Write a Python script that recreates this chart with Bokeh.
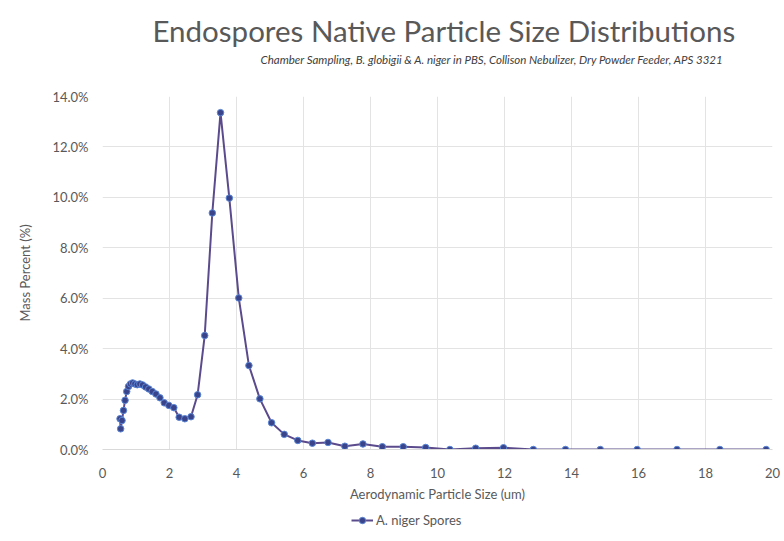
from bokeh.plotting import figure
from bokeh.layouts import column
from bokeh.models import Range1d, Legend, LegendItem, PrintfTickFormatter, FixedTicker, ColumnDataSource, Title
from bokeh.embed import file_html
from bokeh.resources import INLINE

# ---- data ----
size_um = [0.523, 0.542, 0.583, 0.626, 0.673, 0.723, 0.777, 0.835, 0.898, 0.965,
           1.037, 1.114, 1.197, 1.286, 1.382, 1.486, 1.596, 1.715, 1.843, 1.981,
           2.129, 2.288, 2.458, 2.642, 2.839, 3.051, 3.278, 3.523, 3.786, 4.068,
           4.371, 4.698, 5.048, 5.425, 5.829, 6.264, 6.732, 7.234, 7.774, 8.354,
           8.977, 9.647, 10.37, 11.14, 11.97, 12.86, 13.82, 14.86, 15.96, 17.15,
           18.43, 19.81]
mass_pct = [1.22, 0.82, 1.15, 1.55, 1.95, 2.30, 2.50, 2.60, 2.64, 2.60,
            2.57, 2.60, 2.56, 2.48, 2.40, 2.30, 2.20, 2.05, 1.85, 1.75,
            1.66, 1.28, 1.22, 1.30, 2.17, 4.52, 9.38, 13.36, 9.97, 6.01,
            3.33, 2.01, 1.06, 0.60, 0.36, 0.25, 0.28, 0.13, 0.22, 0.11,
            0.11, 0.08, 0.00, 0.05, 0.07, 0.00, 0.00, 0.00, 0.00, 0.00,
            0.00, 0.00]
x_ticks = [0, 2, 4, 6, 8, 10, 12, 14, 16, 18, 20]
y_ticks = [0, 2, 4, 6, 8, 10, 12, 14]
series_name = "A. niger Spores"
title_text = "Endospores Native Particle Size Distributions"
subtitle_text = "Chamber Sampling, B. globigii & A. niger in PBS, Collison Nebulizer, Dry Powder Feeder, APS 3321"

FONT = "Lato"
GREY = "#595959"
LINE_COLOR = "#5B4A8C"
MARK_FILL = "#3A448A"
MARK_LINE = "#5A86D6"

p = figure(frame_width=670, frame_height=353, output_backend="svg", toolbar_location=None,
           x_range=Range1d(0, 20), y_range=Range1d(0, 14),
           min_border_left=102, min_border_right=8, min_border_top=96, min_border_bottom=56)
p.outline_line_color = None
p.background_fill_color = "white"
p.border_fill_color = "white"

p.xaxis.ticker = FixedTicker(ticks=x_ticks)
p.yaxis.ticker = FixedTicker(ticks=y_ticks)
p.yaxis.formatter = PrintfTickFormatter(format="%.1f%%")
for ax in (p.xaxis, p.yaxis):
    ax.major_tick_line_color = None
    ax.minor_tick_line_color = None
    ax.major_tick_out = 0
    ax.major_tick_in = 0
    ax.minor_tick_out = 0
    ax.minor_tick_in = 0
    ax.major_label_text_font = FONT
    ax.major_label_text_font_size = "13px"
    ax.major_label_text_color = GREY
    ax.axis_label_text_font = FONT
    ax.axis_label_text_font_size = "13px"
    ax.axis_label_text_font_style = "normal"
    ax.axis_label_text_color = GREY
p.yaxis.axis_line_color = None
p.yaxis.major_label_standoff = 14
p.yaxis.axis_label = "Mass Percent (%)"
p.yaxis.axis_label_standoff = 16
p.xaxis.axis_line_color = "#D9D9D9"
p.xaxis.major_label_standoff = 18
p.xaxis.axis_label = "Aerodynamic Particle Size (um)"
p.xaxis.axis_label_standoff = 5

p.xgrid.grid_line_color = "#E3E3E3"
p.ygrid.grid_line_color = "#E3E3E3"

src = ColumnDataSource(dict(x=size_um, y=mass_pct))
p.line("x", "y", source=src, line_color=LINE_COLOR, line_width=2)
p.scatter("x", "y", source=src, size=6.5, fill_color=MARK_FILL, line_color=MARK_LINE, line_width=1)

# spacer between frame and subtitle
p.add_layout(Title(text=" ", text_font_size="1px", standoff=27), "above")
p.add_layout(Title(text=subtitle_text, align="left", offset=158, standoff=2,
                   text_font=FONT, text_font_size="11.5px", text_font_style="italic",
                   text_color="#404040"), "above")
p.add_layout(Title(text=title_text, align="left", offset=50, standoff=4,
                   text_font=FONT, text_font_size="29.5px", text_font_style="normal",
                   text_color=GREY), "above")

# legend strip below the chart; its sample renderers reuse the series but lie out of view
lg = figure(width=780, height=36, output_backend="svg", toolbar_location=None,
            x_range=Range1d(-3, -2), y_range=Range1d(-3, -2),
            x_axis_type=None, y_axis_type=None,
            min_border_left=0, min_border_right=0, min_border_top=0, min_border_bottom=0)
lg.outline_line_color = None
lg.xgrid.visible = False
lg.ygrid.visible = False
l_ln = lg.line("x", "y", source=src, line_color=LINE_COLOR, line_width=2)
l_sc = lg.scatter("x", "y", source=src, size=6.5, fill_color=MARK_FILL, line_color=MARK_LINE, line_width=1)
legend = Legend(items=[LegendItem(label=series_name, renderers=[l_ln, l_sc])],
                location=(249, 13), orientation="horizontal",
                label_text_font=FONT, label_text_font_size="13px", label_text_color=GREY,
                glyph_width=22, glyph_height=16, padding=0, margin=0, label_standoff=3,
                border_line_color=None, background_fill_alpha=0)
lg.add_layout(legend, "center")

page = column(p, lg, spacing=0)
open("out.html", "w").write(file_html(page, INLINE))
